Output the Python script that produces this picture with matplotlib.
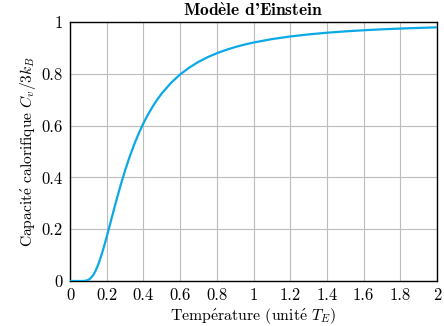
import matplotlib
matplotlib.use("Agg")
import matplotlib.pyplot as plt

# Values (temperature in units of T_E, C_v/3k_B)
temperature = [0.0, 0.05, 0.075, 0.09, 0.1, 0.11, 0.125, 0.13, 0.14, 0.15, 0.16,
               0.175, 0.18, 0.19, 0.2, 0.21, 0.225, 0.24, 0.25, 0.275, 0.3,
               0.325, 0.35, 0.375, 0.4, 0.425, 0.45, 0.475, 0.5, 0.55, 0.6,
               0.65, 0.7, 0.75, 0.8, 0.85, 0.9, 0.95, 1.0, 1.1, 1.2, 1.3, 1.4,
               1.5, 1.6, 1.7, 1.8, 1.9, 2.0]
heat_capacity = [0.0, 0.0, 0.0003, 0.0018, 0.0045, 0.0093, 0.0215, 0.0270, 0.0404,
                 0.0567, 0.0757, 0.1084, 0.1202, 0.1450, 0.1707, 0.1972, 0.2375,
                 0.2777, 0.3041, 0.3675, 0.4263, 0.4797, 0.5277, 0.5706, 0.6089,
                 0.6429, 0.6730, 0.7000, 0.7241, 0.7647, 0.7975, 0.8240, 0.8460,
                 0.8642, 0.8794, 0.8922, 0.9032, 0.9126, 0.9207, 0.9339, 0.9441,
                 0.9521, 0.9586, 0.9638, 0.9681, 0.9717, 0.9747, 0.9772, 0.9794]
x_ticks = [0, 0.2, 0.4, 0.6, 0.8, 1, 1.2, 1.4, 1.6, 1.8, 2]
x_tick_labels = ["0", "0.2", "0.4", "0.6", "0.8", "1", "1.2", "1.4", "1.6", "1.8", "2"]
y_ticks = [0, 0.2, 0.4, 0.6, 0.8, 1]
y_tick_labels = ["0", "0.2", "0.4", "0.6", "0.8", "1"]

plt.rcParams['font.family'] = ['cmr10', 'DejaVu Serif']
plt.rcParams['mathtext.fontset'] = 'cm'
plt.rcParams['axes.formatter.use_mathtext'] = True
plt.rcParams['axes.unicode_minus'] = False

fig = plt.figure(figsize=(4.44, 3.26), dpi=100)
ax = fig.add_axes([70/444, 45/326, 367/444, 259/326])

ax.plot(temperature, heat_capacity, color='#0aa9e6', linewidth=1.6, zorder=3,
        solid_joinstyle='round')

ax.set_xlim(0, 2)
ax.set_ylim(0, 1)
ax.set_xticks(x_ticks)
ax.set_xticklabels(x_tick_labels)
ax.set_yticks(y_ticks)
ax.set_yticklabels(y_tick_labels)
ax.grid(True, color='#bcbcbc', linewidth=0.8)
ax.tick_params(length=0, pad=5, labelsize=12)
for s in ax.spines.values():
    s.set_linewidth(1.0)
    s.set_color('black')

ax.set_title(r"Mod$\mathbf{\grave{e}}$le d'Einstein", fontsize=12.5, fontweight='bold',
             family=['cmb10', 'DejaVu Serif'], pad=4)
ax.set_xlabel(r"Temp$\mathrm{\acute{e}}$rature (unit$\mathrm{\acute{e}}$ $T_E$)",
              fontsize=11.4, labelpad=2)
ax.set_ylabel(r"Capacit$\mathrm{\acute{e}}$ calorifique $C_v/3k_B$", fontsize=11.2,
              labelpad=3)

fig.savefig("out.png", dpi=100)
